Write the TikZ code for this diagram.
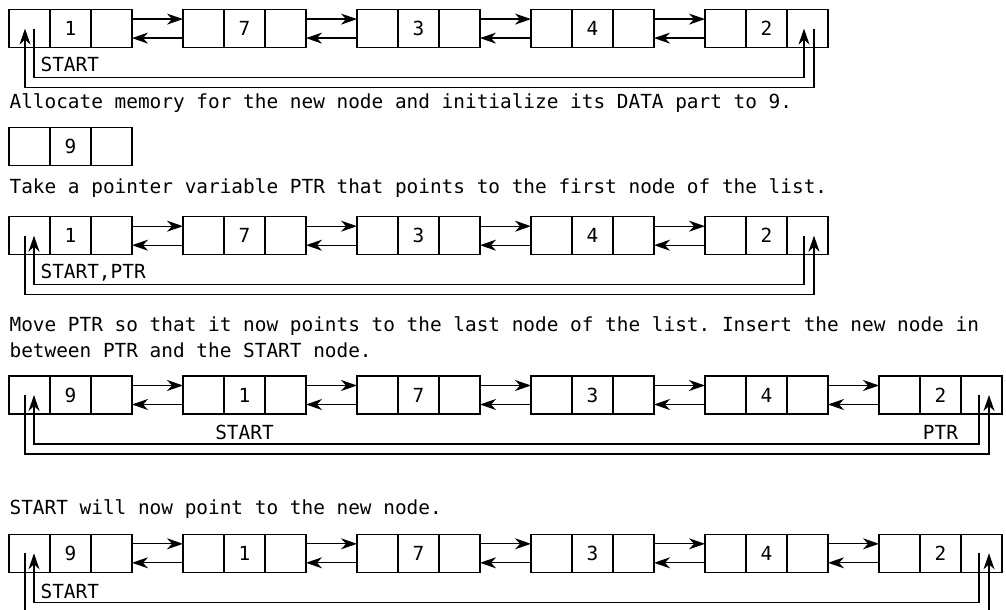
\documentclass[tikz,border=0pt]{standalone}
\usepackage{fontspec}
\setmonofont{DejaVu Sans Mono}
\usetikzlibrary{positioning,arrows.meta}
\begin{document}
\begin{tikzpicture}[x=0.5pt,y=-0.5pt,semithick,>={Stealth[length=8pt,width=5.5pt,inset=2.5pt]},
    every node/.style={font=\ttfamily\fontsize{9.7}{12.65}\selectfont}]
  \tikzset{cell/.style={draw=black,minimum width=20.5pt,minimum height=19pt,inner sep=0pt,outer sep=0pt},
    msg/.style={anchor=base west,inner sep=0pt},
    lbl/.style={inner sep=0pt}}
  \useasboundingbox (0,0) rectangle (1006,610);
  % list before insertion
  \foreach \v [count=\i] in {1,7,3,4,2} {
    \node[cell] (a\i p) at ({29.5+174*(\i-1)},28.6) {};
    \node[cell,right=0pt of a\i p] (a\i d) {\v};
    \node[cell,right=0pt of a\i d] (a\i n) {};
  }
  \foreach \i in {1,...,4} {
    \pgfmathtruncatemacro\j{\i+1}
    \draw[->] ([yshift=4.75pt]a\i n.east) -- ([yshift=4.75pt]a\j p.west);
    \draw[->] ([yshift=-4.75pt]a\j p.west) -- ([yshift=-4.75pt]a\i n.east);
  }
  \draw[->] ([xshift=2.25pt]a1p.center) -- ++(0,-24.5pt) -| ([xshift=-1.75pt]a5n.center);
  \draw[->] ([xshift=3.25pt]a5n.center) -- ++(0,-29.5pt) -| ([xshift=-2.25pt]a1p.center);
  \node[lbl,anchor=west] (s1) at ([xshift=15.5pt,yshift=-8.65pt]a1p.south west) {START};

  \node[msg] (t1) at (9,108.3) {Allocate memory for the new node and initialize its DATA part to 9.};
  % new node
  \node[cell] (n1p) at (29.5,146.3) {};
  \node[cell,right=0pt of n1p] (n1d) {9};
  \node[cell,right=0pt of n1d] (n1n) {};

  \node[msg] (t2) at (9,193.3) {Take a pointer variable PTR that points to the first node of the list.};
  % PTR on first node
  \foreach \v [count=\i] in {1,7,3,4,2} {
    \node[cell] (c\i p) at ({29.5+174*(\i-1)},235.7) {};
    \node[cell,right=0pt of c\i p] (c\i d) {\v};
    \node[cell,right=0pt of c\i d] (c\i n) {};
  }
  \foreach \i in {1,...,4} {
    \pgfmathtruncatemacro\j{\i+1}
    \draw[->] ([yshift=4.75pt]c\i n.east) -- ([yshift=4.75pt]c\j p.west);
    \draw[->] ([yshift=-4.75pt]c\j p.west) -- ([yshift=-4.75pt]c\i n.east);
  }
  \draw[->] ([xshift=-1.75pt]c5n.center) -- ++(0,-24.5pt) -| ([xshift=2.25pt]c1p.center);
  \draw[->] ([xshift=-2.25pt]c1p.center) -- ++(0,-29.5pt) -| ([xshift=3.25pt]c5n.center);
  \node[lbl,anchor=west] (s3) at ([xshift=15.5pt,yshift=-9.15pt]c1p.south west) {START,PTR};

  \node[msg] (t3) at (9,331.7) {Move PTR so that it now points to the last node of the list. Insert the new node in};
  \node[msg] (t3b) at (9,357) {between PTR and the START node.};
  % new node inserted after PTR
  \foreach \v [count=\i] in {9,1,7,3,4,2} {
    \node[cell] (d\i p) at ({29.5+174*(\i-1)},395) {};
    \node[cell,right=0pt of d\i p] (d\i d) {\v};
    \node[cell,right=0pt of d\i d] (d\i n) {};
  }
  \foreach \i in {1,...,5} {
    \pgfmathtruncatemacro\j{\i+1}
    \draw[->] ([yshift=4.75pt]d\i n.east) -- ([yshift=4.75pt]d\j p.west);
    \draw[->] ([yshift=-4.75pt]d\j p.west) -- ([yshift=-4.75pt]d\i n.east);
  }
  \draw[->] ([xshift=-1.25pt]d6n.center) -- ++(0,-24.5pt) -| ([xshift=2.25pt]d1p.center);
  \draw[->] ([xshift=-2.25pt]d1p.center) -- ++(0,-29.5pt) -| ([xshift=3.75pt]d6n.center);
  \node[lbl] (s4) at ([yshift=-9.15pt]d2d.south) {START};
  \node[lbl] (p4) at ([yshift=-9.15pt]d6d.south) {PTR};

  \node[msg] (t4) at (9,514) {START will now point to the new node.};
  % START on new node
  \foreach \v [count=\i] in {9,1,7,3,4,2} {
    \node[cell] (e\i p) at ({29.5+174*(\i-1)},553.3) {};
    \node[cell,right=0pt of e\i p] (e\i d) {\v};
    \node[cell,right=0pt of e\i d] (e\i n) {};
  }
  \foreach \i in {1,...,5} {
    \pgfmathtruncatemacro\j{\i+1}
    \draw[->] ([yshift=4.75pt]e\i n.east) -- ([yshift=4.75pt]e\j p.west);
    \draw[->] ([yshift=-4.75pt]e\j p.west) -- ([yshift=-4.75pt]e\i n.east);
  }
  \draw[->] ([xshift=-1.25pt]e6n.center) -- ++(0,-24.5pt) -| ([xshift=2.25pt]e1p.center);
  \draw[->] ([xshift=-2.25pt]e1p.center) -- ++(0,-29.5pt) -| ([xshift=3.75pt]e6n.center);
  \node[lbl,anchor=west] (s5) at ([xshift=15.5pt,yshift=-9.35pt]e1p.south west) {START};
\end{tikzpicture}
\end{document}
